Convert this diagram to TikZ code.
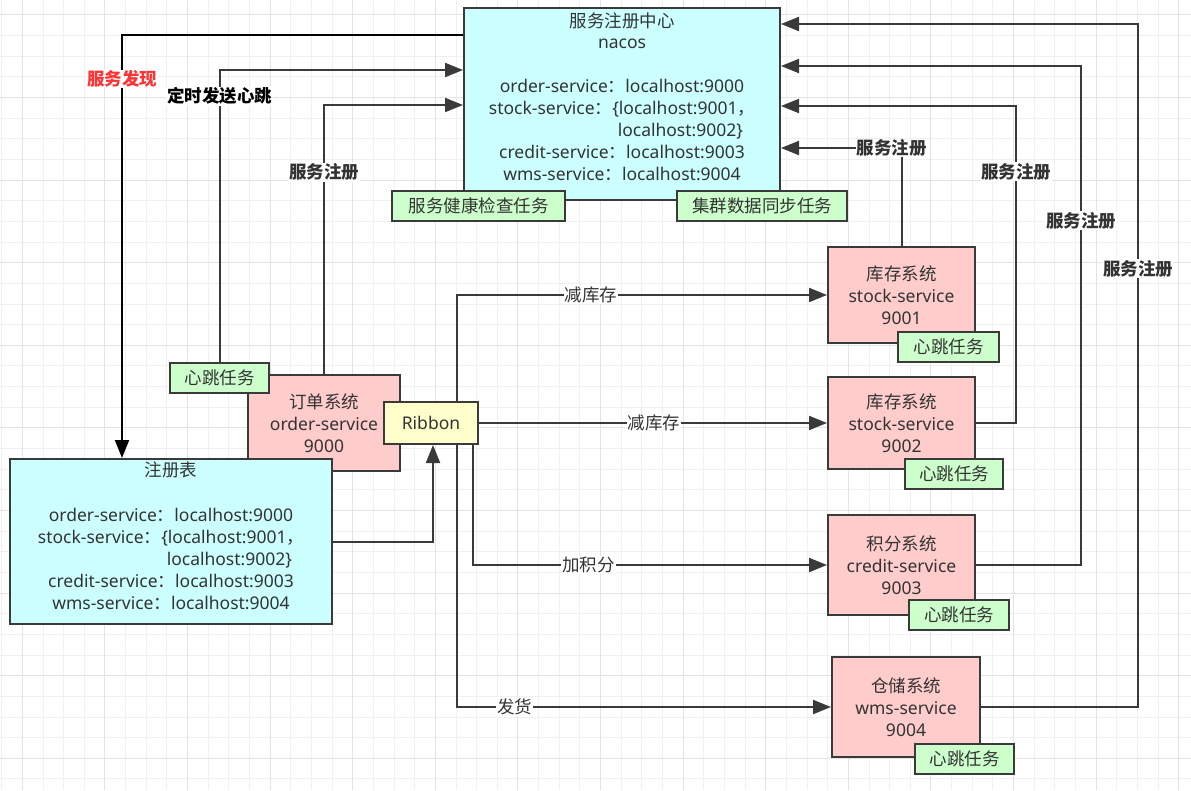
\documentclass[tikz,border=0pt]{standalone}
\usepackage{fontspec}
\setmainfont{Noto Sans}
\newfontfamily\cjk{Noto Sans CJK SC}
\usetikzlibrary{arrows.meta}
\definecolor{txt}{HTML}{333333}
\definecolor{edge}{HTML}{3A3A3A}
\definecolor{cyanbox}{HTML}{CCFFFF}
\definecolor{pinkbox}{HTML}{FFCCCC}
\definecolor{greenbox}{HTML}{CCFFCC}
\definecolor{yellowbox}{HTML}{FFFFCC}
\definecolor{gminor}{HTML}{F0F0F0}
\definecolor{gmajor}{HTML}{E3E3E3}
\definecolor{redlbl}{HTML}{FF3333}
\newcommand\fcolon{{\cjk ：}}
\newcommand\fcomma{{\cjk ，}}
\begin{document}
\begin{tikzpicture}[x=1pt,y=-1pt,
  font=\fontsize{17.5}{22}\selectfont,
  box/.style={draw=edge, line width=2pt, inner sep=0pt, align=center, text=txt},
  cbox/.style={box, fill=cyanbox},
  pbox/.style={box, fill=pinkbox},
  gbox/.style={box, fill=greenbox, minimum height=30pt},
  conn/.style={draw=edge, line width=2pt, -{Triangle[length=18pt,width=14pt]}},
  elbl/.style={fill=white, inner sep=1pt, text=txt, font=\cjk\fontsize{17.5}{22}\selectfont},
  blbl/.style={fill=white, inner sep=1pt, text=txt, font=\cjk\bfseries\fontsize{17.5}{22}\selectfont},
  ln/.style={anchor=base, inner sep=0pt, text=txt}]
\useasboundingbox (0,0) rectangle (1191,790);
\fill[white] (0,0) rectangle (1191,790);
% grid
\foreach \k in {0,...,57} { \draw[gminor, line width=1pt] ({1.7+20.65*\k},0) -- ({1.7+20.65*\k},790); }
\foreach \k in {0,...,38} { \draw[gminor, line width=1pt] (0,{-5.75+20.65*\k}) -- (1191,{-5.75+20.65*\k}); }
\foreach \k in {1,5,...,57} { \draw[gmajor, line width=1pt] ({1.7+20.65*\k},0) -- ({1.7+20.65*\k},790); }
\foreach \k in {1,5,...,38} { \draw[gmajor, line width=1pt] (0,{-5.75+20.65*\k}) -- (1191,{-5.75+20.65*\k}); }

% nacos
\node[cbox, minimum width=316pt, minimum height=192pt] (nacos) at (622,104) {};
\node[ln] (n1) at (622,27) {\cjk 服务注册中心};
\node[ln] (n2) at (622,48) {nacos};
\node[ln] (n3) at (622,92) {order-service\fcolon localhost:9000};
\node[ln] (n4) at (622,114) {stock-service\fcolon\{localhost:9001\fcomma};
\node[ln, anchor=base east] (n5) at ([xshift=-12pt,yshift=-22pt]n4.base east) {localhost:9002\}};
\node[ln] (n6) at (622,158) {credit-service\fcolon localhost:9003};
\node[ln] (n7) at (622,180) {wms-service\fcolon localhost:9004};
\node[gbox, minimum width=173pt] (hc) at (478.5,206) {\cjk 服务健康检查任务};
\node[gbox, minimum width=170pt] (sync) at (762,206) {\cjk 集群数据同步任务};

% order system
\node[pbox, minimum width=152pt, minimum height=96pt] (order) at (324,423) {{\cjk 订单系统}\\order-service\\9000};
\node[gbox, minimum width=99pt] (hb0) at (219.5,378) {\cjk 心跳任务};
\node[box, fill=yellowbox, minimum width=94pt, minimum height=42pt] (ribbon) at (431,423) {Ribbon};

% registry table
\node[cbox, minimum width=322pt, minimum height=165pt] (reg) at (171,541.5) {};
\node[ln] (r1) at (171,476) {\cjk 注册表};
\node[ln] (r3t) at (171,521) {order-service\fcolon localhost:9000};
\node[ln] (r4t) at (171,543) {stock-service\fcolon\{localhost:9001\fcomma};
\node[ln, anchor=base east] (r5t) at ([xshift=-12pt,yshift=-22pt]r4t.base east) {localhost:9002\}};
\node[ln] (r6t) at (171,587) {credit-service\fcolon localhost:9003};
\node[ln] (r7t) at (171,609) {wms-service\fcolon localhost:9004};

% services
\node[pbox, minimum width=147pt, minimum height=96pt] (s1) at (901.5,295) {{\cjk 库存系统}\\stock-service\\9001};
\node[gbox, minimum width=101pt] (hb1) at (948.5,347) {\cjk 心跳任务};
\node[pbox, minimum width=147pt, minimum height=92pt] (s2) at (901.5,423) {{\cjk 库存系统}\\stock-service\\9002};
\node[gbox, minimum width=98pt] (hb2) at (954,474) {\cjk 心跳任务};
\node[pbox, minimum width=147pt, minimum height=100pt] (s3) at (901.5,565) {{\cjk 积分系统}\\credit-service\\9003};
\node[gbox, minimum width=100pt] (hb3) at (959,614.5) {\cjk 心跳任务};
\node[pbox, minimum width=148pt, minimum height=100pt] (s4) at (906,707) {{\cjk 仓储系统}\\wms-service\\9004};
\node[gbox, minimum width=99pt] (hb4) at (964.5,759) {\cjk 心跳任务};

% corner points
\coordinate (c2) at (1016,106);
\coordinate (c3) at (1081,66);
\coordinate (c4) at (1138,24);

% connectors left
\draw[conn, draw=black] ([yshift=-28pt]nacos.north west) -| node[blbl, text=redlbl, pos=0.552] {服务发现} ([xshift=-49pt]reg.north);
\draw[conn] (hb0.north) |- node[blbl, text=black, pos=0.455] {定时发送心跳} ([yshift=-63pt]nacos.north west);
\draw[conn] (order.north) |- node[blbl, pos=0.375] {服务注册} ([yshift=-98pt]nacos.north west);
\draw[conn] (reg.east) -| ([xshift=2pt]ribbon.south);

% ribbon calls
\draw[conn] ([xshift=26pt]ribbon.north) |- node[elbl, pos=0.681] {减库存} (s1.west);
\draw[conn] (ribbon.east) -- node[elbl, pos=0.503] {减库存} (s2.west);
\draw[conn] ([xshift=42pt]ribbon.south) |- node[elbl, pos=0.663] {加积分} (s3.west);
\draw[conn] ([xshift=26pt]ribbon.south) |- node[elbl, pos=0.577] {发货} (s4.west);

% registrations
\draw[conn] (s1.north) |- node[blbl, pos=0.54] {服务注册} ([yshift=-141pt]nacos.north east);
\draw[conn] (s2.east) -| node[blbl, pos=0.896] {服务注册} (c2) -- (c2 -| nacos.east);
\draw[conn] (s3.east) -| node[blbl, pos=0.845] {服务注册} (c3) -- (c3 -| nacos.east);
\draw[conn] (s4.east) -| node[blbl, pos=0.821] {服务注册} (c4) -- (c4 -| nacos.east);
\end{tikzpicture}
\end{document}
